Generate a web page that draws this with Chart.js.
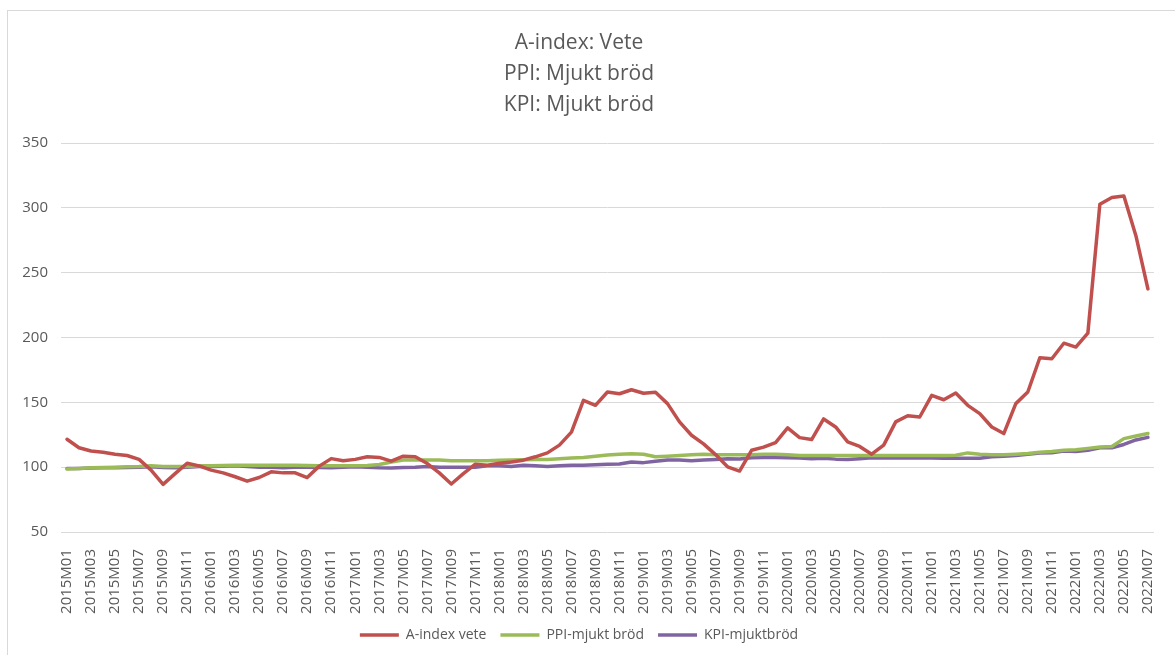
<!DOCTYPE html>
<html>
<head>
<meta charset="utf-8">
<script src="https://cdn.jsdelivr.net/npm/chart.js@4.4.1/dist/chart.umd.min.js"></script>
<style>
  html, body { margin: 0; padding: 0; background: #fff; }
  #wrap { position: relative; width: 1175px; height: 655px; overflow: hidden; }
  #frame { position: absolute; left: 7px; top: 10px; width: 1300px; height: 800px; border: 1px solid #d9d9d9; }
  #chart { position: absolute; left: 0; top: 0; }
</style>
</head>
<body>
<div id="wrap">
  <div id="frame"></div>
  <canvas id="chart" width="1175" height="655"></canvas>
</div>
<script>
// Monthly labels 2015M01 .. 2022M07
const years = [2015, 2016, 2017, 2018, 2019, 2020, 2021, 2022];
const months = ['01', '02', '03', '04', '05', '06', '07', '08', '09', '10', '11', '12'];
const labels = [];
years.forEach(y => {
    months.forEach((m, i) => {
        if (y === 2022 && i > 6) return;
        labels.push(y + 'M' + m);
    });
});

const titleLines = ['A-index: Vete', 'PPI: Mjukt bröd', 'KPI: Mjukt bröd'];
const yTicks = [50, 100, 150, 200, 250, 300, 350];

const aIndexVete = [
    121.5, 115, 112.5, 111.5, 110, 109, 106, 97.7, 86.7, 95, 103, 101,
    97.7, 95.6, 92.6, 89.2, 92, 96.4, 95.6, 95.6, 92, 100.8, 106.6, 104.9,
    106, 108, 107.5, 104.6, 108.5, 108, 102.8, 95.6, 87, 95, 102.3, 101.5,
    103, 104, 105.4, 108, 111, 117, 127, 151.5, 147.7, 158, 156.6, 159.7,
    157, 157.7, 149, 134.9, 124.6, 118, 109.7, 100.3, 97, 113, 115.5, 119,
    130.3, 122.8, 121.3, 137.2, 131, 119.5, 116, 110, 117, 134.9, 139.7, 138.7,
    155.4, 152, 157.2, 147.7, 141.3, 131, 125.9, 149, 158, 184.4, 183.6, 195.6,
    192.6, 203.3, 302.8, 308, 309.2, 278.5, 237.5
];

const ppiMjuktBrod = [
    98.5, 99, 99.5, 99.8, 100, 100.3, 100.5, 101, 100.5, 100.5, 100.5, 101,
    101, 101.2, 101.5, 101.5, 101.5, 101.5, 101.5, 101.5, 101.3, 101, 101, 101,
    101, 101.2, 102, 104, 105.5, 105.5, 105.5, 105.5, 105, 105, 105, 105,
    105.3, 105.5, 105.8, 106, 106, 106.5, 107, 107.5, 108.5, 109.3, 110, 110.3,
    110, 108, 108.5, 109, 109.5, 110, 109.5, 109.5, 109.5, 109.5, 110, 110,
    109.5, 109, 109, 109, 109, 109, 109, 109, 109, 109, 109, 109,
    109, 109, 109.2, 111, 110, 109.5, 109.5, 110, 110.5, 111.5, 112, 113,
    113.5, 114.5, 115.5, 116, 122, 124, 126
];

const kpiMjuktBrod = [
    99, 99, 99.3, 99.5, 99.5, 99.8, 100, 100.3, 99.8, 99.5, 100, 100.5,
    100.5, 100.8, 101, 100.5, 100, 100, 99.5, 100, 100, 99.8, 99.5, 100,
    100.3, 100, 99.5, 99.3, 99.8, 100, 100.5, 100, 100, 100, 100, 101,
    101, 100.5, 101.5, 101, 100.5, 101, 101.5, 101.5, 101.8, 102.3, 102.5, 104,
    103.5, 104.5, 105.5, 105.5, 105, 105.5, 106, 106.5, 106.3, 107.2, 107.5, 107.5,
    107.2, 107, 106.5, 106.8, 106.2, 106, 106.5, 107.2, 107, 107, 107, 107.3,
    107, 106.8, 106.8, 106.8, 106.8, 108, 108.5, 109, 110, 111, 111.2, 112.5,
    112, 113, 115, 115, 117.5, 121, 123
];

const textColor = '#595959';
const fontFamily = '"Open Sans", "Liberation Sans", sans-serif';

function lineSeries(label, data, color) {
    return {
        label: label,
        data: data,
        borderColor: color,
        backgroundColor: color,
        borderWidth: 3.5,
        pointRadius: 0,
        pointHoverRadius: 0,
        tension: 0,
        borderJoinStyle: 'round',
        borderCapStyle: 'round',
        fill: false
    };
}

new Chart(document.getElementById('chart'), {
    type: 'line',
    data: {
        labels: labels,
        datasets: [
            lineSeries('A-index vete', aIndexVete, '#c0504d'),
            lineSeries('PPI-mjukt bröd', ppiMjuktBrod, '#9bbb59'),
            lineSeries('KPI-mjuktbröd', kpiMjuktBrod, '#8064a2')
        ]
    },
    options: {
        responsive: false,
        animation: false,
        layout: { padding: { left: 0, right: 17, top: 0, bottom: 3 } },
        plugins: {
            title: {
                display: true,
                text: titleLines,
                color: textColor,
                font: { family: fontFamily, size: 21, weight: 'normal', lineHeight: 31 / 21 },
                padding: { top: 28, bottom: 22 }
            },
            legend: {
                position: 'bottom',
                labels: {
                    usePointStyle: true,
                    pointStyle: 'line',
                    pointStyleWidth: 39,
                    color: textColor,
                    font: { family: fontFamily, size: 14 },
                    padding: 14
                }
            },
            tooltip: { enabled: false }
        },
        scales: {
            x: {
                offset: true,
                grid: { display: false },
                border: { display: false },
                ticks: {
                    autoSkip: false,
                    minRotation: 90,
                    maxRotation: 90,
                    padding: 9,
                    color: textColor,
                    font: { family: fontFamily, size: 15 },
                    callback: function(value, index) {
                        return index % 2 === 0 ? this.getLabelForValue(value) : '';
                    }
                },
                afterFit: scale => { scale.height = 82; }
            },
            y: {
                min: 50,
                max: 350,
                afterBuildTicks: scale => { scale.ticks = yTicks.map(v => ({ value: v })); },
                grid: { color: '#d9d9d9', lineWidth: 1, drawTicks: false },
                border: { display: false },
                ticks: {
                    padding: 13,
                    color: textColor,
                    font: { family: fontFamily, size: 15 }
                },
                afterFit: scale => { scale.width = 61; }
            }
        }
    }
});
</script>
</body>
</html>
